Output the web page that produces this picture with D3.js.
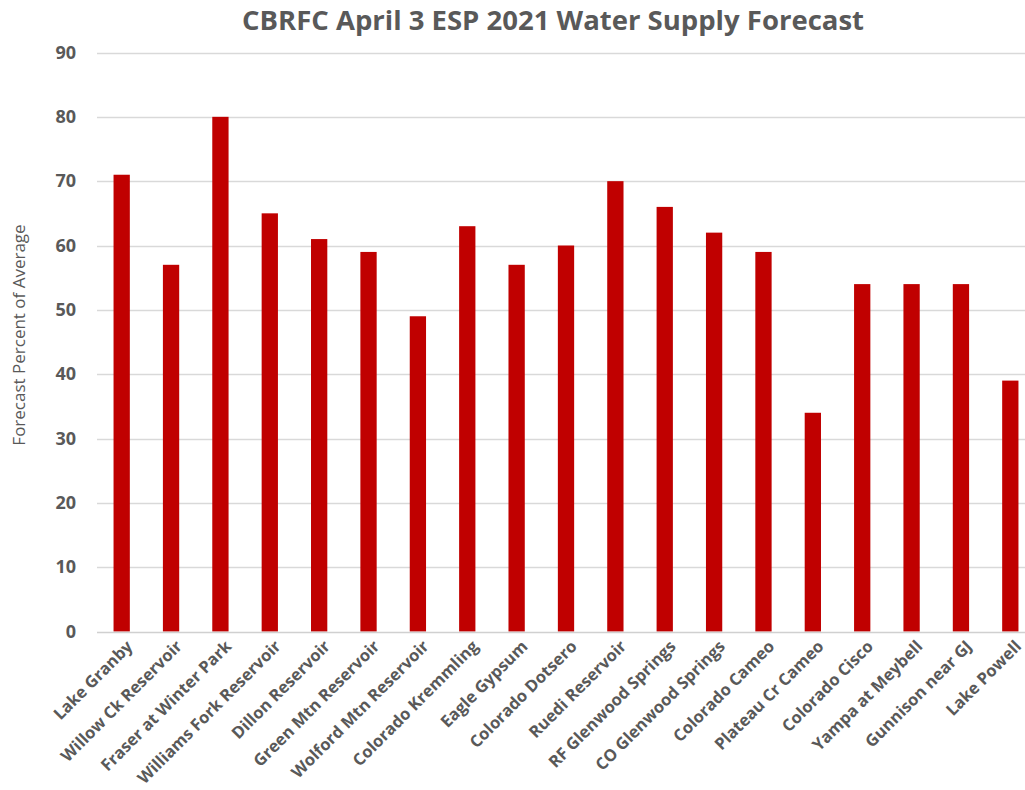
<!DOCTYPE html>
<html><head><meta charset="utf-8">
<script src="https://cdn.jsdelivr.net/npm/d3@7"></script>
<style>
html,body{margin:0;padding:0;background:#fff;overflow:hidden}
svg{display:block;font-family:"Open Sans",sans-serif}
</style></head>
<body><svg id="c" width="1025" height="790"></svg>
<script>
const categories = ["Lake Granby","Willow Ck Reservoir","Fraser at Winter Park","Williams Fork Reservoir","Dillon Reservoir","Green Mtn Reservoir","Wolford Mtn Reservoir","Colorado Kremmling","Eagle Gypsum","Colorado Dotsero","Ruedi Reservoir","RF Glenwood Springs","CO Glenwood Springs","Colorado Cameo","Plateau Cr Cameo","Colorado Cisco","Yampa at Meybell","Gunnison near GJ","Lake Powell"];
const values = [71,57,80,65,61,59,49,63,57,60,70,66,62,59,34,54,54,54,39];
const yTicks = [0,10,20,30,40,50,60,70,80,90];
const title = "CBRFC April 3 ESP 2021 Water Supply Forecast";
const yLabel = "Forecast Percent of Average";

const svg = d3.select("#c");
const textColor = "#595959";
const x = d3.scaleBand().domain(categories).range([97, 1035]).paddingInner(0.67).paddingOuter(0.335);
const y = d3.scaleLinear().domain([0, 90]).range([631.5, 52.5]);

// gridlines
svg.append("g").selectAll("line").data(yTicks.filter(d=>d>0)).join("line")
  .attr("x1", 97).attr("x2", 1035)
  .attr("y1", d=>Math.round(y(d))+0.5).attr("y2", d=>Math.round(y(d))+0.5)
  .attr("stroke", "#d9d9d9").attr("stroke-width", 1.3);

// bars
svg.append("g").selectAll("rect").data(values).join("rect")
  .attr("x", (d,i)=>x(categories[i]))
  .attr("width", x.bandwidth())
  .attr("y", d=>y(d))
  .attr("height", d=>y(0)-y(d))
  .attr("fill", "#c00000");

// baseline
svg.append("line").attr("x1",97).attr("x2",1035)
  .attr("y1", Math.round(y(0))+0.5).attr("y2", Math.round(y(0))+0.5)
  .attr("stroke","#d0d0d0").attr("stroke-width",1.3);

// y axis
const yAxis = d3.axisLeft(y).tickValues(yTicks).tickSize(0).tickPadding(0);
const gy = svg.append("g").attr("transform","translate(76,0)").call(yAxis);
gy.select(".domain").remove();
gy.selectAll("text").attr("fill",textColor).attr("font-size","18px").attr("font-weight","bold")
  .attr("font-family","'Open Sans',sans-serif");

// x axis labels
const xAxis = d3.axisBottom(x).tickSize(0).tickPadding(0);
const gx = svg.append("g").attr("transform",`translate(0,${y(0)})`).call(xAxis);
gx.select(".domain").remove();
gx.selectAll("text")
  .attr("fill",textColor).attr("font-size","16.5px").attr("font-weight","bold")
  .attr("font-family","'Open Sans',sans-serif")
  .attr("text-anchor","end")
  .attr("dy","0")
  .attr("y",0)
  .attr("transform","translate(12,16) rotate(-45)");

// title
svg.append("text").attr("x", 553).attr("y", 30).attr("text-anchor","middle")
  .attr("fill",textColor).attr("font-size","27.5px").attr("font-weight","bold").text(title);

// y label
svg.append("text").attr("transform","translate(25,335) rotate(-90)").attr("text-anchor","middle")
  .attr("fill",textColor).attr("font-size","17px").text(yLabel);
</script></body></html>
